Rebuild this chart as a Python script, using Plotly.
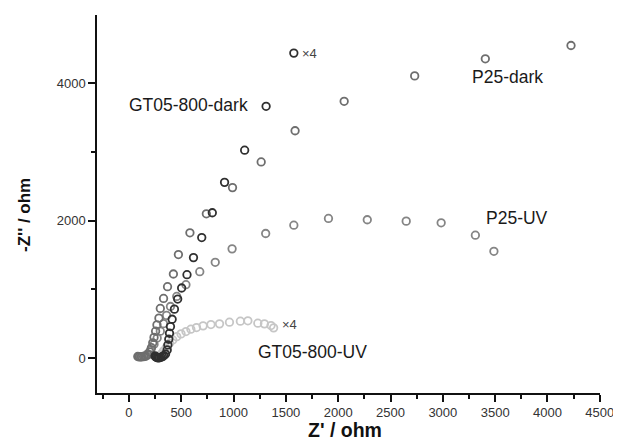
import plotly.graph_objects as go

# ---- data (ohm) ----
p25_dark_x = [4225, 3406, 2731, 2057, 1588, 1264, 990, 740, 583, 473, 425, 369, 331, 300, 287, 268, 255, 240, 228, 215, 200, 180, 160, 140, 120, 100, 85]
p25_dark_y = [4551, 4357, 4108, 3738, 3309, 2855, 2481, 2100, 1823, 1506, 1223, 1038, 867, 721, 580, 482, 390, 300, 220, 150, 90, 45, 25, 20, 18, 20, 22]

p25_uv_x = [3488, 3311, 2984, 2650, 2278, 1907, 1576, 1307, 986, 825, 677, 545, 457, 397, 360, 330, 300, 270, 240, 210, 180, 150, 125, 110, 95]
p25_uv_y = [1554, 1788, 1969, 1993, 2013, 2032, 1934, 1813, 1589, 1393, 1257, 1067, 896, 750, 620, 500, 390, 290, 200, 120, 60, 30, 20, 18, 15]

gt_dark_x = [1576, 1311, 1106, 914, 797, 696, 617, 555, 504, 466, 435, 413, 397, 388, 381, 372, 366, 350, 335, 320, 305, 292, 282, 272, 262, 255, 250]
gt_dark_y = [4440, 3665, 3026, 2558, 2115, 1754, 1462, 1213, 1019, 858, 711, 564, 458, 360, 273, 190, 117, 58, 35, 20, 10, 4, 2, 4, 10, 20, 30]

gt_uv_x = [1383, 1358, 1295, 1232, 1137, 1065, 961, 866, 784, 709, 646, 592, 545, 498, 457, 419, 388, 356, 330, 310, 295, 285]
gt_uv_y = [439, 472, 497, 507, 541, 536, 521, 497, 487, 468, 443, 419, 385, 351, 311, 263, 214, 150, 100, 60, 30, 10]

# label positions (data coords) and texts
labels = ["GT05-800-dark", "P25-dark", "P25-UV", "GT05-800-UV"]
label_x = [570, 3615, 3705, 1758]
label_y = [3684, 4098, 2032, 92]
x4_x = [1730, 1534]
x4_y = [4440, 492]

x_ticks = [0, 500, 1000, 1500, 2000, 2500, 3000, 3500, 4000, 4500]
y_ticks = [0, 2000, 4000]

fig = go.Figure()

def add_series(x, y, color, name):
    fig.add_trace(go.Scatter(
        x=x, y=y, mode="markers", name=name,
        marker=dict(symbol="circle-open", size=7.5, color=color, line=dict(width=1.8, color=color)),
    ))

add_series(gt_uv_x, gt_uv_y, "#c6c6c6", "GT05-800-UV")
add_series(p25_uv_x, p25_uv_y, "#858585", "P25-UV")
add_series(p25_dark_x, p25_dark_y, "#6e6e6e", "P25-dark")
add_series(gt_dark_x, gt_dark_y, "#303030", "GT05-800-dark")

for t, x, y in zip(labels, label_x, label_y):
    fig.add_annotation(x=x, y=y, text=t, showarrow=False, xanchor="center", yanchor="middle",
                       font=dict(family="Liberation Sans, Arial", size=17.5, color="#1a1a1a"))
for x, y in zip(x4_x, x4_y):
    fig.add_annotation(x=x, y=y, text="×4", showarrow=False, xanchor="center", yanchor="middle",
                       font=dict(family="Liberation Sans, Arial", size=13, color="#444"))

fig.add_annotation(xref="paper", yref="paper", x=0.494, y=0, yshift=-37, text="<b>Z' / ohm</b>",
                   showarrow=False, xanchor="center", yanchor="middle",
                   font=dict(family="Liberation Sans, Arial", size=19.5, color="#111"))
fig.add_annotation(xref="paper", yref="paper", x=0, xshift=-72, y=0.471, text="<b>-Z'' / ohm</b>",
                   textangle=-90, showarrow=False, xanchor="center", yanchor="middle",
                   font=dict(family="Liberation Sans, Arial", size=17, color="#111"))

# page body has an 8px default margin: size the figure to fit the 621x442 window
fig.update_layout(
    width=613, height=434,
    margin=dict(l=89, r=16, t=7, b=49),
    plot_bgcolor="white", paper_bgcolor="white",
    showlegend=False,
    font=dict(family="Liberation Sans, Arial", size=13, color="#333"),
)
fig.update_xaxes(
    range=[-305, 4502], tickvals=x_ticks, ticktext=[str(v) for v in x_ticks],
    showgrid=False, zeroline=False, showline=True, linecolor="#111", linewidth=1.5,
    ticks="outside", ticklen=7, tickwidth=1.5, tickcolor="#111",
    minor=dict(dtick=250, tick0=0, ticks="outside", ticklen=4, tickwidth=1.5, tickcolor="#111", showgrid=False),
    tickfont=dict(size=13, color="#333"),
)
fig.update_yaxes(
    range=[-510, 4995], tickvals=y_ticks, ticktext=[str(v) for v in y_ticks],
    showgrid=False, zeroline=False, showline=True, linecolor="#111", linewidth=1.5,
    ticks="outside", ticklen=7, tickwidth=1.5, tickcolor="#111",
    minor=dict(dtick=1000, tick0=0, ticks="outside", ticklen=4, tickwidth=1.5, tickcolor="#111", showgrid=False),
    tickfont=dict(size=13, color="#333"),
)

fig.write_html("out.html")
